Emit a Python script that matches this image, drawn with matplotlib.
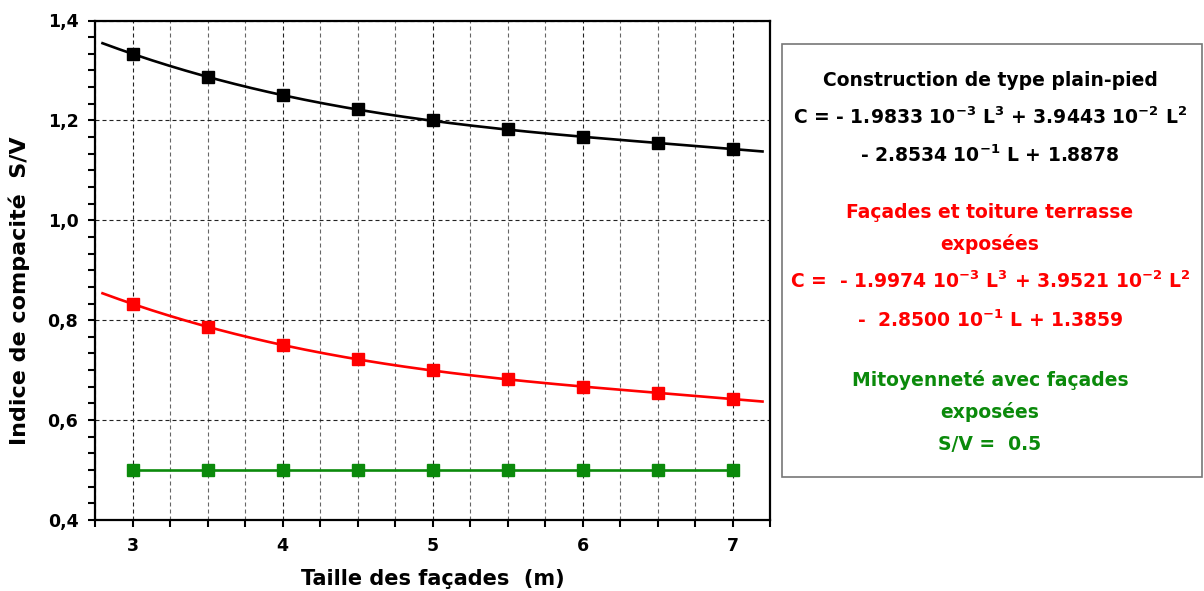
import numpy as np
import matplotlib
matplotlib.use("Agg")
import matplotlib.pyplot as plt
from matplotlib.ticker import FixedLocator, MultipleLocator, FixedFormatter
from matplotlib.patches import Rectangle

plt.rcParams['font.family'] = ['DejaVu Sans']
plt.rcParams['mathtext.default'] = 'bf'

# ---- data ----
L = [3.0, 3.5, 4.0, 4.5, 5.0, 5.5, 6.0, 6.5, 7.0]
plain_pied = [1.333, 1.286, 1.250, 1.222, 1.200, 1.182, 1.167, 1.154, 1.143]
terrasse = [0.833, 0.786, 0.750, 0.722, 0.700, 0.682, 0.667, 0.654, 0.643]
mitoyen = [0.5, 0.5, 0.5, 0.5, 0.5, 0.5, 0.5, 0.5, 0.5]
# fitted cubic coefficients (from the chart's annotation)
coef_plain = [-1.9833e-3, 3.9443e-2, -2.8534e-1, 1.8878]
coef_terr = [-1.9974e-3, 3.9521e-2, -2.8500e-1, 1.3859]
fit_range = [2.8, 7.2]
y_ticks = [0.4, 0.6, 0.8, 1.0, 1.2, 1.4]
y_labels = ['0,4', '0,6', '0,8', '1,0', '1,2', '1,4']
x_ticks = [3, 4, 5, 6, 7]
x_labels = ['3', '4', '5', '6', '7']

BLACK = '#000000'
RED = '#ff0000'
GREEN = '#0b8a0b'

fig = plt.figure(figsize=(12.04, 5.91), dpi=100)
ax = fig.add_axes([95/1204, 71/591, 675/1204, 499.5/591])

xs = np.linspace(fit_range[0], fit_range[1], 200)
ax.plot(xs, np.polyval(coef_plain, xs), color=BLACK, lw=1.9, zorder=3)
ax.plot(L, plain_pied, 's', color=BLACK, ms=8, zorder=4)
ax.plot(xs, np.polyval(coef_terr, xs), color=RED, lw=1.9, zorder=3)
ax.plot(L, terrasse, 's', color=RED, ms=8, zorder=4)
ax.plot(L, mitoyen, 's-', color=GREEN, lw=1.9, ms=8, zorder=4)

ax.set_xlim(2.75, 7.25)
ax.set_ylim(0.4, 1.4)
ax.xaxis.set_major_locator(FixedLocator(x_ticks))
ax.xaxis.set_major_formatter(FixedFormatter(x_labels))
ax.xaxis.set_minor_locator(MultipleLocator(0.25))
ax.yaxis.set_major_locator(FixedLocator(y_ticks))
ax.yaxis.set_major_formatter(FixedFormatter(y_labels))
ax.yaxis.set_minor_locator(MultipleLocator(0.2/6))

dash = (0, (3.6, 2.7))
ax.grid(True, which='major', axis='x', color='#222222', ls=dash, lw=0.8)
ax.grid(True, which='minor', axis='x', color='#666666', ls=dash, lw=0.8)
ax.grid(True, which='major', axis='y', color='#222222', ls=dash, lw=0.8)
ax.set_axisbelow(True)

for s in ax.spines.values():
    s.set_linewidth(1.6)
ax.tick_params(which='both', direction='out', length=5, width=1.5)
ax.tick_params(axis='both', labelsize=12.5, pad=7)
for lab in ax.get_xticklabels() + ax.get_yticklabels():
    lab.set_fontweight('bold')

ax.set_xlabel('Taille des façades  (m)', fontsize=15, fontweight='bold', labelpad=10)
ax.set_ylabel('Indice de compacité  S/V', fontsize=16, fontweight='bold')
ax.yaxis.set_label_coords(-0.097, 0.46)

# annotation box
fig.patches.append(Rectangle((782/1204, 1 - 477/591), (1202-782)/1204, (477-44)/591,
                             transform=fig.transFigure, fill=False,
                             edgecolor='#777777', lw=1.2))
cx = 990/1204
def t(ypix, s, c):
    fig.text(cx, 1 - ypix/591, s, color=c, ha='center', va='center',
             fontsize=13.5, fontweight='bold')

t(80, 'Construction de type plain-pied', BLACK)
t(117, r'C = - 1.9833 10$^{-3}$ L$^{3}$ + 3.9443 10$^{-2}$ L$^{2}$', BLACK)
t(155, r'- 2.8534 10$^{-1}$ L + 1.8878', BLACK)
t(212, 'Façades et toiture terrasse', RED)
t(244, 'exposées', RED)
t(281, r'C =  - 1.9974 10$^{-3}$ L$^{3}$ + 3.9521 10$^{-2}$ L$^{2}$', RED)
t(320, r'-  2.8500 10$^{-1}$ L + 1.3859', RED)
t(380, 'Mitoyenneté avec façades', GREEN)
t(412, 'exposées', GREEN)
t(444, 'S/V =  0.5', GREEN)

fig.savefig('out.png', dpi=100)
